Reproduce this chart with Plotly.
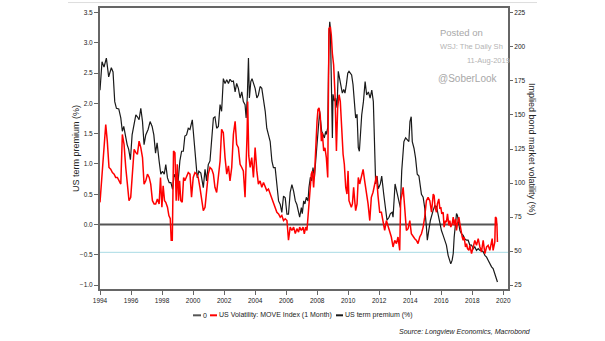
import plotly.graph_objects as go

# ---------------- data (decimal year, value) ----------------
TERM_PREMIUM = [  # US term premium (%), left axis
    (1994.00, 2.22), (1994.13, 2.69), (1994.26, 2.60), (1994.41, 2.75), (1994.56, 2.44),
    (1994.73, 2.59), (1994.84, 2.52), (1994.95, 2.03), (1995.06, 1.92), (1995.21, 1.91),
    (1995.34, 1.76), (1995.44, 1.54), (1995.53, 1.62), (1995.64, 1.43), (1995.75, 1.32),
    (1995.85, 1.24), (1995.96, 1.07), (1996.07, 1.48), (1996.20, 1.65), (1996.31, 1.81),
    (1996.41, 1.78), (1996.52, 1.73), (1996.63, 1.92), (1996.74, 1.70), (1996.84, 1.32),
    (1996.95, 1.48), (1997.10, 1.57), (1997.23, 1.70), (1997.36, 1.62), (1997.47, 1.48),
    (1997.58, 1.18), (1997.68, 1.35), (1997.81, 1.05), (1997.92, 0.83), (1998.03, 0.88),
    (1998.14, 0.83), (1998.24, 0.99), (1998.35, 0.77), (1998.46, 0.69), (1998.57, 0.69),
    (1998.68, 0.58), (1998.78, 0.83), (1998.89, 0.77), (1999.00, 0.61), (1999.15, 1.05),
    (1999.26, 1.21), (1999.37, 1.21), (1999.47, 1.46), (1999.58, 1.48), (1999.69, 1.59),
    (1999.80, 1.57), (1999.95, 1.73), (2000.05, 1.43), (2000.16, 1.10), (2000.27, 0.77),
    (2000.37, 0.88), (2000.50, 0.85), (2000.66, 0.61), (2000.77, 0.91), (2000.87, 0.72),
    (2000.98, 0.99), (2001.09, 1.05), (2001.20, 1.48), (2001.31, 1.76), (2001.41, 1.78),
    (2001.52, 1.59), (2001.63, 1.62), (2001.74, 1.98), (2001.84, 1.87), (2001.95, 2.41),
    (2002.06, 2.33), (2002.17, 2.39), (2002.28, 2.33), (2002.38, 2.40), (2002.49, 2.36),
    (2002.60, 2.37), (2002.71, 2.19), (2002.81, 2.33), (2002.92, 2.25), (2003.03, 2.09),
    (2003.14, 2.19), (2003.24, 2.03), (2003.35, 1.98), (2003.42, 1.76), (2003.50, 2.14),
    (2003.57, 2.75), (2003.63, 2.09), (2003.72, 2.36), (2003.80, 2.41), (2003.89, 2.33),
    (2004.00, 2.25), (2004.11, 2.09), (2004.21, 2.14), (2004.32, 2.28), (2004.43, 2.25),
    (2004.54, 2.06), (2004.65, 1.87), (2004.75, 1.59), (2004.86, 1.48), (2004.97, 1.37),
    (2005.08, 1.05), (2005.18, 0.94), (2005.29, 0.94), (2005.40, 0.63), (2005.51, 0.39),
    (2005.62, 0.33), (2005.72, 0.20), (2005.83, 0.47), (2005.94, 0.44), (2006.05, 0.17),
    (2006.15, 0.17), (2006.26, 0.53), (2006.37, 0.66), (2006.48, 0.55), (2006.59, 0.39),
    (2006.69, 0.33), (2006.80, 0.17), (2006.87, 0.12), (2006.98, 0.28), (2007.04, 0.18),
    (2007.13, 0.39), (2007.21, 0.34), (2007.30, 0.45), (2007.41, 0.39), (2007.47, 0.61),
    (2007.56, 0.78), (2007.64, 0.72), (2007.73, 0.94), (2007.82, 0.78), (2007.90, 1.05),
    (2007.99, 1.38), (2008.07, 1.60), (2008.16, 1.87), (2008.22, 1.71), (2008.29, 1.54),
    (2008.37, 1.49), (2008.46, 1.43), (2008.55, 1.54), (2008.59, 1.49), (2008.68, 1.60),
    (2008.72, 2.58), (2008.76, 3.13), (2008.81, 3.35), (2008.85, 3.24), (2008.89, 2.69),
    (2008.93, 2.04), (2008.98, 1.43), (2009.02, 2.15), (2009.11, 2.04), (2009.19, 2.09),
    (2009.28, 1.93), (2009.36, 2.53), (2009.45, 2.42), (2009.54, 2.25), (2009.62, 2.17),
    (2009.71, 2.23), (2009.79, 2.17), (2009.88, 2.31), (2009.97, 2.50), (2010.05, 2.53),
    (2010.14, 2.50), (2010.22, 2.47), (2010.31, 2.31), (2010.40, 1.98), (2010.48, 1.76),
    (2010.57, 1.82), (2010.65, 1.27), (2010.72, 1.21), (2010.81, 1.70), (2010.87, 1.81),
    (2010.98, 2.03), (2011.09, 2.36), (2011.19, 2.14), (2011.30, 2.19), (2011.41, 2.09),
    (2011.52, 2.22), (2011.62, 2.03), (2011.71, 1.21), (2011.77, 0.67), (2011.86, 0.80),
    (2011.94, 0.59), (2012.07, 0.67), (2012.16, 0.80), (2012.29, 0.50), (2012.42, 0.18),
    (2012.50, 0.07), (2012.63, 0.12), (2012.72, 0.18), (2012.83, 0.20), (2012.89, 0.12),
    (2013.02, 0.67), (2013.15, 0.50), (2013.28, 0.34), (2013.36, 0.28), (2013.45, 0.89),
    (2013.54, 1.21), (2013.59, 1.37), (2013.70, 1.43), (2013.80, 1.40), (2013.91, 1.37),
    (2013.98, 1.70), (2014.06, 1.78), (2014.13, 1.37), (2014.24, 1.26), (2014.34, 1.10),
    (2014.45, 0.83), (2014.56, 0.80), (2014.61, 0.67), (2014.72, 0.50), (2014.83, 0.45),
    (2014.93, 0.28), (2015.04, -0.04), (2015.10, -0.26), (2015.19, -0.10), (2015.30, 0.07),
    (2015.47, 0.23), (2015.58, 0.31), (2015.69, 0.30), (2015.80, 0.15), (2015.91, 0.00),
    (2016.01, -0.10), (2016.12, -0.18), (2016.23, -0.26), (2016.33, -0.34), (2016.44, -0.51),
    (2016.55, -0.62), (2016.61, -0.65), (2016.70, -0.59), (2016.77, -0.48), (2016.83, -0.21),
    (2016.92, 0.07), (2016.98, 0.18), (2017.04, 0.15), (2017.13, 0.01), (2017.20, -0.10),
    (2017.30, -0.15), (2017.41, -0.18), (2017.52, -0.24), (2017.63, -0.26), (2017.73, -0.26),
    (2017.84, -0.34), (2017.95, -0.34), (2018.06, -0.40), (2018.16, -0.37), (2018.27, -0.43),
    (2018.38, -0.40), (2018.49, -0.43), (2018.59, -0.43), (2018.70, -0.45), (2018.81, -0.51),
    (2018.92, -0.54), (2019.02, -0.59), (2019.13, -0.65), (2019.24, -0.70), (2019.34, -0.73),
    (2019.45, -0.81), (2019.56, -0.89), (2019.62, -0.95),
]

MOVE_INDEX = [  # US Volatility: MOVE Index (1 Month), right axis
    (1994.00, 85.8), (1994.13, 106.5), (1994.26, 128.4), (1994.37, 143.0), (1994.47, 130.8),
    (1994.58, 111.4), (1994.69, 110.2), (1994.80, 107.7), (1994.91, 106.5), (1995.01, 104.1),
    (1995.12, 104.1), (1995.23, 101.6), (1995.34, 99.2), (1995.44, 135.7), (1995.55, 128.4),
    (1995.66, 111.4), (1995.77, 96.8), (1995.87, 87.0), (1995.98, 89.5), (1996.09, 106.5),
    (1996.20, 124.8), (1996.31, 122.3), (1996.41, 121.1), (1996.52, 130.8), (1996.63, 126.0),
    (1996.74, 118.7), (1996.84, 99.2), (1996.95, 101.6), (1997.06, 106.5), (1997.17, 104.1),
    (1997.27, 99.2), (1997.38, 87.0), (1997.49, 84.6), (1997.59, 84.6), (1997.70, 88.3),
    (1997.81, 84.6), (1997.90, 104.1), (1997.99, 82.2), (1998.07, 98.0), (1998.16, 87.0),
    (1998.24, 85.8), (1998.35, 82.2), (1998.44, 76.1), (1998.53, 73.7), (1998.59, 58.0),
    (1998.66, 58.0), (1998.74, 123.5), (1998.83, 122.3), (1998.91, 87.0), (1998.98, 113.8),
    (1999.06, 87.0), (1999.13, 101.6), (1999.21, 87.0), (1999.30, 85.8), (1999.39, 104.1),
    (1999.47, 101.6), (1999.58, 104.1), (1999.69, 107.7), (1999.80, 106.5), (1999.90, 89.5),
    (2000.01, 104.1), (2000.12, 107.7), (2000.23, 106.5), (2000.33, 104.1), (2000.44, 96.8),
    (2000.55, 87.0), (2000.66, 79.7), (2000.77, 82.2), (2000.87, 96.8), (2000.98, 106.5),
    (2001.09, 111.4), (2001.20, 110.2), (2001.31, 106.5), (2001.41, 96.8), (2001.52, 93.1),
    (2001.63, 104.1), (2001.74, 116.2), (2001.84, 139.4), (2001.95, 136.9), (2002.06, 118.7),
    (2002.17, 106.5), (2002.28, 112.6), (2002.38, 101.6), (2002.49, 111.4), (2002.60, 135.7),
    (2002.71, 145.4), (2002.81, 128.4), (2002.92, 126.0), (2003.03, 113.8), (2003.14, 111.4),
    (2003.24, 108.9), (2003.35, 89.5), (2003.42, 111.4), (2003.48, 135.7), (2003.52, 160.0),
    (2003.59, 119.9), (2003.68, 111.4), (2003.78, 118.7), (2003.89, 104.1), (2004.00, 126.0),
    (2004.11, 108.9), (2004.21, 99.2), (2004.32, 101.6), (2004.43, 96.8), (2004.54, 100.4),
    (2004.65, 96.8), (2004.75, 94.4), (2004.86, 95.6), (2004.97, 91.9), (2005.08, 89.5),
    (2005.18, 84.6), (2005.29, 81.0), (2005.40, 78.5), (2005.51, 77.3), (2005.62, 74.9),
    (2005.72, 76.1), (2005.83, 72.4), (2005.94, 73.7), (2006.05, 72.4), (2006.15, 58.0),
    (2006.26, 67.6), (2006.37, 65.1), (2006.48, 67.6), (2006.59, 62.8), (2006.69, 66.4),
    (2006.80, 63.9), (2006.87, 67.6), (2006.98, 65.1), (2007.09, 67.6), (2007.17, 62.7),
    (2007.26, 67.6), (2007.34, 65.1), (2007.41, 77.3), (2007.52, 96.8), (2007.62, 106.5),
    (2007.69, 108.9), (2007.77, 96.8), (2007.84, 108.9), (2007.90, 128.4), (2007.99, 145.4),
    (2008.05, 154.0), (2008.12, 155.2), (2008.20, 149.1), (2008.27, 130.8), (2008.33, 136.9),
    (2008.42, 123.5), (2008.50, 125.9), (2008.59, 118.6), (2008.68, 104.1), (2008.72, 208.7),
    (2008.76, 213.5), (2008.85, 214.8), (2008.91, 208.7), (2008.98, 195.0), (2009.06, 186.8),
    (2009.15, 164.9), (2009.24, 123.5), (2009.32, 155.2), (2009.41, 164.9), (2009.49, 160.0),
    (2009.58, 138.1), (2009.67, 121.1), (2009.75, 113.8), (2009.84, 96.8), (2009.92, 91.9),
    (2009.99, 108.9), (2010.05, 87.0), (2010.14, 84.6), (2010.20, 82.2), (2010.27, 84.6),
    (2010.35, 96.8), (2010.42, 87.0), (2010.48, 79.7), (2010.57, 84.6), (2010.65, 104.1),
    (2010.74, 99.3), (2010.85, 104.0), (2010.96, 110.0), (2011.06, 101.6), (2011.17, 94.4),
    (2011.28, 84.6), (2011.39, 72.4), (2011.49, 89.5), (2011.60, 93.2), (2011.71, 100.4),
    (2011.82, 105.3), (2011.92, 90.7), (2012.03, 78.5), (2012.14, 78.5), (2012.25, 72.4),
    (2012.35, 65.1), (2012.46, 72.4), (2012.57, 67.6), (2012.68, 63.9), (2012.78, 60.3),
    (2012.89, 53.0), (2013.00, 57.8), (2013.11, 55.4), (2013.21, 60.3), (2013.32, 50.5),
    (2013.38, 87.0), (2013.45, 90.7), (2013.54, 96.8), (2013.64, 82.2), (2013.75, 65.1),
    (2013.86, 66.4), (2013.97, 72.4), (2014.07, 62.7), (2014.18, 60.3), (2014.29, 59.0),
    (2014.40, 57.8), (2014.50, 55.4), (2014.61, 60.3), (2014.72, 62.7), (2014.83, 67.6),
    (2014.93, 74.9), (2015.04, 87.0), (2015.15, 89.5), (2015.26, 87.0), (2015.37, 78.5),
    (2015.48, 91.9), (2015.54, 90.7), (2015.60, 82.2), (2015.69, 78.5), (2015.75, 84.6),
    (2015.84, 88.3), (2015.91, 81.0), (2015.97, 82.2), (2016.03, 77.3), (2016.12, 78.5),
    (2016.18, 67.6), (2016.27, 72.4), (2016.33, 71.2), (2016.40, 77.3), (2016.49, 68.8),
    (2016.55, 72.4), (2016.61, 67.6), (2016.70, 70.0), (2016.77, 74.9), (2016.83, 68.8),
    (2016.92, 73.7), (2016.98, 65.1), (2017.04, 70.0), (2017.13, 74.9), (2017.20, 70.0),
    (2017.26, 65.1), (2017.35, 60.3), (2017.41, 57.8), (2017.47, 60.3), (2017.56, 53.0),
    (2017.63, 55.4), (2017.69, 51.8), (2017.78, 50.5), (2017.84, 54.2), (2017.95, 48.1),
    (2018.06, 53.0), (2018.16, 57.8), (2018.27, 54.2), (2018.38, 59.1), (2018.49, 53.0),
    (2018.59, 49.3), (2018.70, 57.8), (2018.81, 48.1), (2018.92, 53.0), (2019.02, 54.2),
    (2019.13, 50.5), (2019.19, 54.2), (2019.28, 59.1), (2019.34, 50.5), (2019.45, 56.6),
    (2019.49, 75.0), (2019.55, 74.0), (2019.59, 68.0), (2019.62, 56.6),
]

ZERO_YEARS = [1994.0, 2019.62]
ZERO_VALUES = [0.0, 0.0]
REF_LEVEL = -0.46  # light blue reference line (left axis units)

LEFT_TICKS = [-1.0, -0.5, 0.0, 0.5, 1.0, 1.5, 2.0, 2.5, 3.0, 3.5]
RIGHT_TICKS = [25, 50, 75, 100, 125, 150, 175, 200, 225]
YEAR_TICKS = list(range(1994, 2021, 2))

LEGEND_NAMES = ["0", "US Volatility: MOVE Index (1 Month)", "US term premium (%)"]
SOURCE_TEXT = "Source: Longview Economics, Macrobond"

tp_x = [p[0] for p in TERM_PREMIUM]
tp_y = [p[1] for p in TERM_PREMIUM]
mv_x = [p[0] for p in MOVE_INDEX]
mv_y = [p[1] for p in MOVE_INDEX]

FONT = "Liberation Sans, Arial, sans-serif"
RED = "#ff0000"
BLACK = "#1a1a1a"
ZERO_COL = "#555555"
AXIS_COL = "#666666"
TICK_SIZE = 6.5

fig = go.Figure()
fig.add_trace(go.Scatter(x=ZERO_YEARS, y=ZERO_VALUES, mode="lines", name=LEGEND_NAMES[0],
                         line=dict(color=ZERO_COL, width=1.8), yaxis="y", showlegend=False))
fig.add_trace(go.Scatter(x=mv_x, y=mv_y, mode="lines", name=LEGEND_NAMES[1],
                         line=dict(color=RED, width=1.5), yaxis="y2", showlegend=False))
fig.add_trace(go.Scatter(x=tp_x, y=tp_y, mode="lines", name=LEGEND_NAMES[2],
                         line=dict(color=BLACK, width=1.2), yaxis="y", showlegend=False))

# plot area geometry: x 100..508, y 6..289 px
L, R, T, B = 100, 97, 6, 52
PW, PH = 605 - L - R, 341 - T - B


def px(xpix):
    return (xpix - L) / PW


def py(ypix):
    return (341 - B - ypix) / PH


fig.update_layout(
    width=605, height=341,
    margin=dict(l=L, r=R, t=T, b=B),
    paper_bgcolor="white", plot_bgcolor="white",
    font=dict(family=FONT, size=7, color="#222"),
    showlegend=False,
    xaxis=dict(range=[1994, 2020.3], tickvals=YEAR_TICKS, ticktext=[str(v) for v in YEAR_TICKS],
               showgrid=False, zeroline=False, showline=True, mirror=True,
               linecolor=AXIS_COL, linewidth=2, ticks="outside", ticklen=4,
               tickcolor=AXIS_COL, tickfont=dict(size=TICK_SIZE, color="#222")),
    yaxis=dict(range=[-1.066, 3.577], tickvals=LEFT_TICKS, tickformat=".1f",
               showgrid=False, zeroline=False, showline=True, linecolor=AXIS_COL,
               linewidth=2, ticks="outside", ticklen=4, tickcolor=AXIS_COL,
               tickfont=dict(size=TICK_SIZE, color="#222")),
    yaxis2=dict(range=[22.08, 228.65], tickvals=RIGHT_TICKS, overlaying="y", side="right",
                showgrid=False, zeroline=False, showline=True, linecolor=AXIS_COL,
                linewidth=2, ticks="outside", ticklen=3, tickcolor=AXIS_COL,
                tickfont=dict(size=TICK_SIZE, color="#222")),
)

shapes = [
    dict(type="line", xref="paper", yref="y", x0=0, x1=1, y0=REF_LEVEL, y1=REF_LEVEL,
         line=dict(color="#a8dbe4", width=1), layer="below"),
    dict(type="line", xref="paper", yref="paper", x0=px(68), x1=px(537), y0=py(0.5), y1=py(0.5),
         line=dict(color="#dddddd", width=1)),
]

# manual legend
leg_y = py(315.5)
leg_items = [(193, 201, ZERO_COL, LEGEND_NAMES[0]),
             (210, 217, RED, LEGEND_NAMES[1]),
             (336, 343, BLACK, LEGEND_NAMES[2])]
annotations = []
for x0, x1, col, name in leg_items:
    shapes.append(dict(type="line", xref="paper", yref="paper", x0=px(x0), x1=px(x1),
                       y0=leg_y, y1=leg_y, line=dict(color=col, width=2)))
    annotations.append(dict(text=name, xref="paper", yref="paper", x=px(x1 + 1), y=leg_y,
                            xanchor="left", yanchor="middle", showarrow=False,
                            font=dict(size=7, color="#222"), borderpad=0))

annotations += [
    dict(text="US term premium (%)", xref="paper", yref="paper", x=px(76), y=py(148),
         textangle=-90, showarrow=False, xanchor="center", yanchor="middle",
         font=dict(size=9, color="#222")),
    dict(text="Implied bond market volatility (%)", xref="paper", yref="paper", x=px(532),
         y=py(148), textangle=90, showarrow=False, xanchor="center", yanchor="middle",
         font=dict(size=9, color="#222")),
    dict(text="<i>" + SOURCE_TEXT + "</i>", xref="paper", yref="paper", x=px(533), y=py(332),
         xanchor="right", yanchor="middle", showarrow=False, font=dict(size=7, color="#222")),
    dict(text="Posted on", xref="paper", yref="paper", x=px(439), y=py(31), xanchor="left",
         yanchor="middle", showarrow=False, font=dict(size=9.5, color="#a8a8a8"), borderpad=0),
    dict(text="WSJ: The Daily Sh", xref="paper", yref="paper", x=px(439), y=py(45), xanchor="left",
         yanchor="middle", showarrow=False, font=dict(size=7.5, color="#b4b4b4"), borderpad=0),
    dict(text="11-Aug-2019", xref="paper", yref="paper", x=px(466), y=py(59), xanchor="left",
         yanchor="middle", showarrow=False, font=dict(size=7.5, color="#b4b4b4"), borderpad=0),
    dict(text="@SoberLook", xref="paper", yref="paper", x=px(437), y=py(77), xanchor="left",
         yanchor="middle", showarrow=False, font=dict(size=10, color="#a8a8a8"), borderpad=0),
]

fig.update_layout(shapes=shapes, annotations=annotations)
fig.write_html("out.html")
